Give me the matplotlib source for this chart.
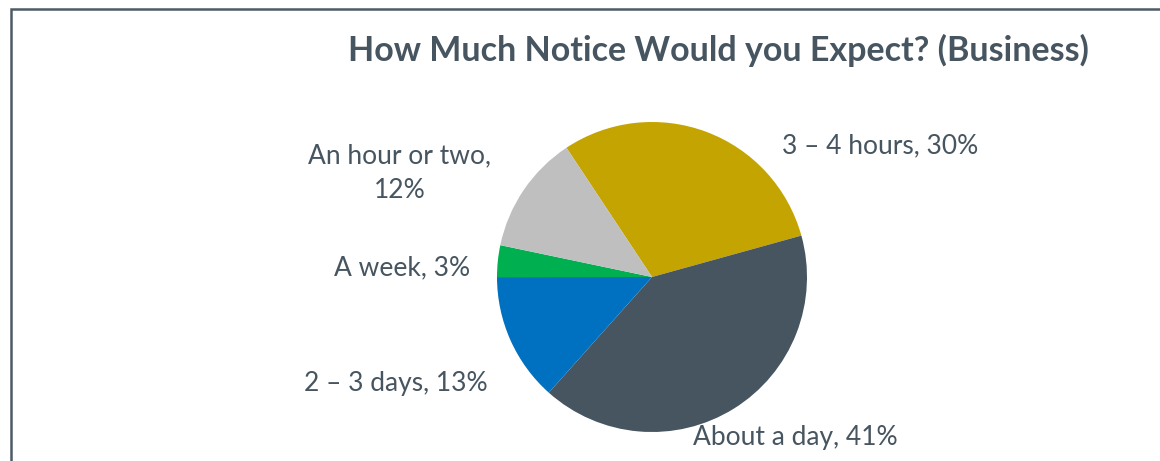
import matplotlib
matplotlib.use("Agg")
import matplotlib.pyplot as plt
from matplotlib.patches import Rectangle

# ── Data (clockwise from the first slice) ───────────────────────────────────
categories = ["3 \u2013 4 hours", "About a day", "2 \u2013 3 days", "A week", "An hour or two"]
shares = [30.0, 40.9, 13.4, 3.3, 12.4]          # slice sizes
shown = [30, 41, 13, 3, 12]                      # percentages printed on labels
colors = ["#C4A400", "#465560", "#0070C0", "#00B050", "#BFBFBF"]

TEXT = "#465560"
W, H = 1160, 461

plt.rcParams["font.family"] = ["Lato", "DejaVu Sans"]

fig = plt.figure(figsize=(W / 100, H / 100), dpi=100)
ax = fig.add_axes([0, 0, 1, 1])
ax.set_xlim(0, W)
ax.set_ylim(0, H)
ax.set_aspect("equal")
ax.axis("off")

# chart frame (runs off the right and bottom edges)
ax.add_patch(Rectangle((11, -20), W + 40, H - 9.5 + 20, fill=False,
                       edgecolor="#4D5B66", lw=1.8, clip_on=False))

ax.pie(shares, colors=colors, startangle=123.5, counterclock=False,
       center=(652, H - 277), radius=155, wedgeprops=dict(linewidth=0),
       normalize=True)
ax.set_xlim(0, W)
ax.set_ylim(0, H)

# label positions (pixel centres in the picture)
label_pos = [(880, 146), (795, 437), (396, 383), (402, 268), (400, 173)]
for cat, val, (x, y) in zip(categories, shown, label_pos):
    txt = f"{cat}, {val}%"
    if cat == "An hour or two":
        txt = f"{cat},\n{val}%"
    ax.text(x, H - y, txt, ha="center", va="center", fontsize=19,
            color=TEXT, linespacing=1.5)

ax.text(718, H - 50, "How Much Notice Would you Expect? (Business)",
        ha="center", va="center", fontsize=24.5, fontweight="bold", color=TEXT)

fig.savefig("out.png", dpi=100)
